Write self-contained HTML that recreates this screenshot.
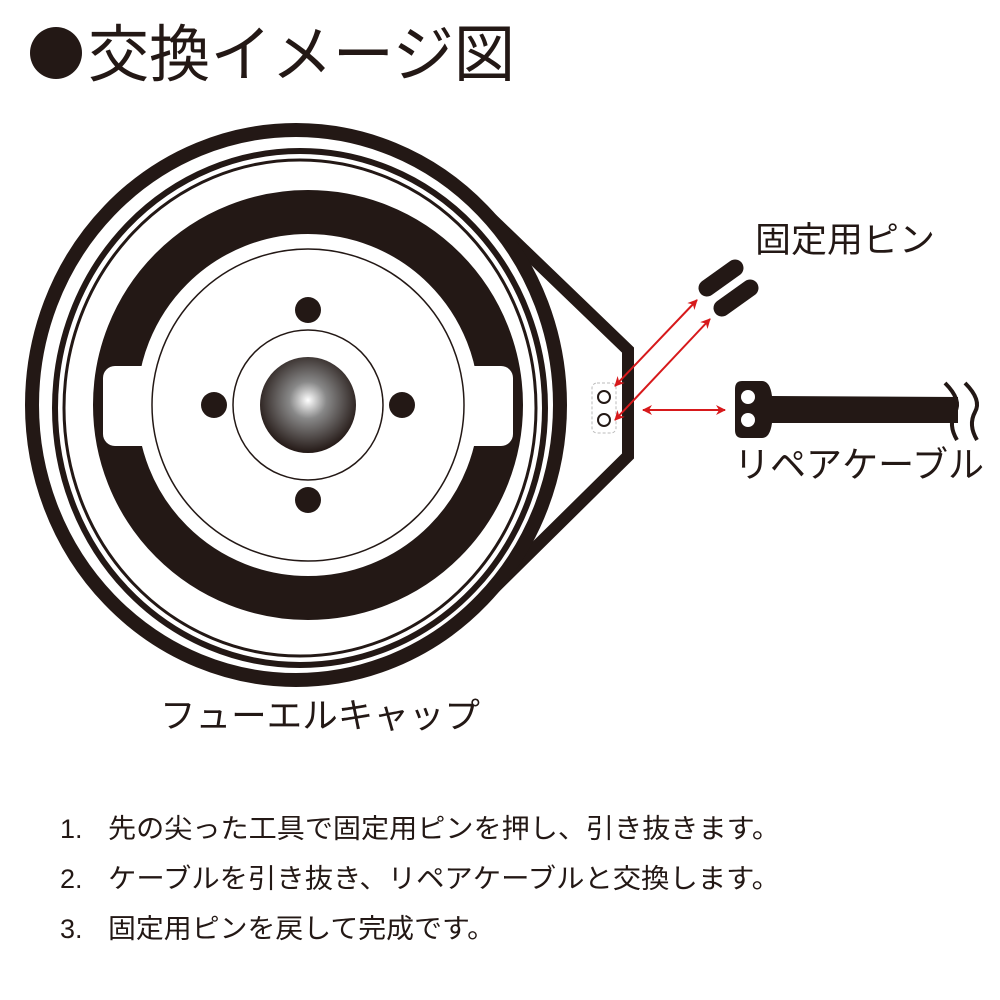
<!DOCTYPE html>
<html><head><meta charset="utf-8"><style>
html,body{margin:0;padding:0;background:#fff;width:1000px;height:1000px;overflow:hidden}
svg text{font-family:"Liberation Sans","Noto Sans CJK JP",sans-serif;fill:#231815}
</style></head><body>
<svg width="1000" height="1000" viewBox="0 0 1000 1000" xmlns="http://www.w3.org/2000/svg">
<defs>
<radialGradient id="g" cx="0.5" cy="0.45" r="0.55">
<stop offset="0" stop-color="#fff"/><stop offset="0.35" stop-color="#888"/><stop offset="1" stop-color="#231815"/>
</radialGradient>
<marker id="ah" viewBox="0 0 10 10" refX="9" refY="5" markerWidth="5" markerHeight="5" orient="auto-start-reverse">
<path d="M0,0 L10,5 L0,10 L3,5 z" fill="#d7191b"/></marker>
</defs>
<circle cx="56" cy="53" r="26" fill="#231815"/>
<text x="88" y="76" font-size="62" textLength="427" lengthAdjust="spacingAndGlyphs">交換イメージ図</text>
<!-- right polygon tab -->
<polyline points="470,198 628,350 628,456 470,612" fill="none" stroke="#231815" stroke-width="12" stroke-linejoin="miter"/>
<!-- outer rings -->
<ellipse cx="296" cy="405" rx="264" ry="275" fill="#fff" stroke="#231815" stroke-width="14"/>
<ellipse cx="300" cy="408" rx="245" ry="257" fill="none" stroke="#231815" stroke-width="6"/>
<ellipse cx="300" cy="408" rx="236" ry="248" fill="none" stroke="#231815" stroke-width="3"/>
<!-- thick ring -->
<circle cx="308" cy="405" r="193" fill="none" stroke="#231815" stroke-width="44"/>
<!-- tabs -->
<rect x="103" y="366" width="62" height="80" rx="12" fill="#fff"/>
<rect x="451" y="366" width="62" height="80" rx="12" fill="#fff"/>
<rect x="145" y="366" width="30" height="80" fill="#fff"/>
<rect x="441" y="366" width="30" height="80" fill="#fff"/>
<circle cx="308" cy="405" r="156" fill="#fff" stroke="#231815" stroke-width="1.5"/>
<circle cx="308" cy="405" r="75" fill="#fff" stroke="#231815" stroke-width="1.5"/>
<circle cx="308" cy="405" r="48" fill="url(#g)"/>
<circle cx="308" cy="310" r="13" fill="#231815"/>
<circle cx="308" cy="500" r="13" fill="#231815"/>
<circle cx="214" cy="405" r="13" fill="#231815"/>
<circle cx="402" cy="405" r="13" fill="#231815"/>
<!-- pin holes -->
<rect x="592" y="383" width="24" height="50" rx="5" fill="#fff" stroke="#bbb" stroke-width="1" stroke-dasharray="3,2"/>
<circle cx="604" cy="397" r="6" fill="#fff" stroke="#231815" stroke-width="2"/>
<circle cx="604" cy="420" r="6" fill="#fff" stroke="#231815" stroke-width="2"/>
<!-- pins -->
<line x1="707" y1="288" x2="735" y2="268" stroke="#231815" stroke-width="17" stroke-linecap="round"/>
<line x1="722" y1="308" x2="750" y2="288" stroke="#231815" stroke-width="17" stroke-linecap="round"/>
<!-- arrows -->
<line x1="697" y1="300" x2="615" y2="386" stroke="#d7191b" stroke-width="2" marker-start="url(#ah)" marker-end="url(#ah)"/>
<line x1="710" y1="319" x2="615" y2="420" stroke="#d7191b" stroke-width="2" marker-start="url(#ah)" marker-end="url(#ah)"/>
<line x1="643" y1="410" x2="725" y2="410" stroke="#d7191b" stroke-width="2" marker-start="url(#ah)" marker-end="url(#ah)"/>
<!-- cable -->
<path d="M742,381 L762,381 Q770,381 772,396 L958,397 L958,423 L772,423 Q770,438 762,438 L742,438 Q735,438 735,430 L735,389 Q735,381 742,381 Z" fill="#231815"/>
<circle cx="748" cy="397" r="7" fill="#fff"/>
<circle cx="748" cy="420" r="7" fill="#fff"/>
<path d="M945,383 Q962,400 955,412 Q948,425 957,440" fill="none" stroke="#231815" stroke-width="4"/>
<path d="M965,383 Q982,400 975,412 Q968,425 977,440" fill="none" stroke="#231815" stroke-width="4"/>
<text x="755" y="252" font-size="35" textLength="180" lengthAdjust="spacingAndGlyphs">固定用ピン</text>
<text x="734" y="477" font-size="36" textLength="250" lengthAdjust="spacingAndGlyphs">リペアケーブル</text>
<text x="160" y="728" font-size="35" textLength="320" lengthAdjust="spacingAndGlyphs">フューエルキャップ</text>
<text x="60" y="838" font-size="27">1.</text>
<text x="108" y="838" font-size="27" textLength="672" lengthAdjust="spacingAndGlyphs">先の尖った工具で固定用ピンを押し、引き抜きます。</text>
<text x="60" y="888" font-size="27">2.</text>
<text x="108" y="888" font-size="27" textLength="672" lengthAdjust="spacingAndGlyphs">ケーブルを引き抜き、リペアケーブルと交換します。</text>
<text x="60" y="938" font-size="27">3.</text>
<text x="108" y="938" font-size="27" textLength="387" lengthAdjust="spacingAndGlyphs">固定用ピンを戻して完成です。</text>
</svg>
</body></html>
